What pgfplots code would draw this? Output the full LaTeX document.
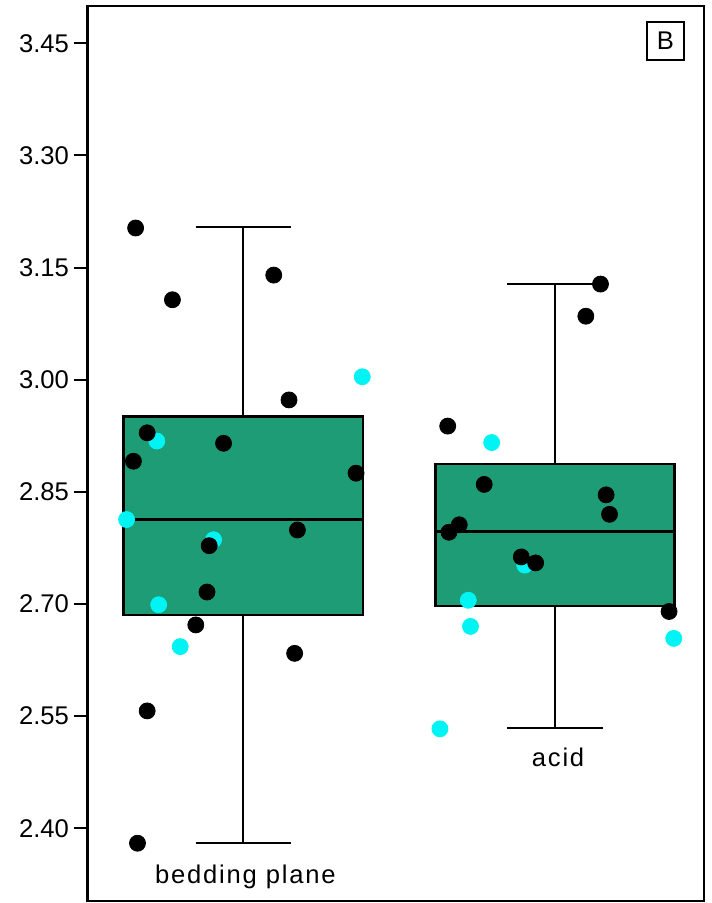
\documentclass[border=0pt]{standalone}
\usepackage{fontspec}
\setmainfont{Liberation Sans}
\usepackage{pgfplots}
\pgfplotsset{compat=1.18}
\usepgfplotslibrary{statistics}
\definecolor{boxgreen}{HTML}{1E9C76}
\definecolor{dotcyan}{HTML}{00F4F4}
\begin{document}
\begin{tikzpicture}
\begin{axis}[
  scale only axis,
  width=308.35pt, height=447.5pt,
  xmin=0.5, xmax=2.478,
  ymin=2.3027, ymax=3.5,
  xtick=\empty,
  ytick={2.40,2.55,2.70,2.85,3.00,3.15,3.30,3.45},
  ytick pos=left,
  tick align=outside,
  major tick length=6.5pt,
  /pgf/number format/assume math mode=true,
  yticklabel={\pgfmathprintnumber[fixed,fixed zerofill,precision=2]{\tick}},
  yticklabel style={font=\fontsize{12.8}{15}\selectfont, inner sep=1pt, xshift=-1.5pt},
  axis line style={line width=1.2pt},
  every tick/.style={line width=1pt, black},
  clip=false,
  boxplot/draw direction=y,
  boxplot/box extend=0.767,
  boxplot/whisker extend=0.305,
  boxplot/every box/.style={draw=black, fill=boxgreen, line width=1.2pt},
  boxplot/every median/.style={draw=black, line width=1.1pt},
  boxplot/every whisker/.style={draw=black, line width=1pt},
]
\addplot[boxplot prepared={draw position=1, median=2.813, upper quartile=2.951, lower quartile=2.685, upper whisker=3.204, lower whisker=2.380}] coordinates {};
\addplot[boxplot prepared={draw position=2, median=2.797, upper quartile=2.887, lower quartile=2.697, upper whisker=3.128, lower whisker=2.534}] coordinates {};
% cyan points
\addplot[only marks, mark=*, mark size=4pt, color=dotcyan] coordinates {
 (1.382,3.004) (0.723,2.918) (0.626,2.813) (0.905,2.786) (0.729,2.699) (0.798,2.643)
 (1.797,2.916) (1.903,2.752) (1.722,2.705) (1.729,2.670) (2.381,2.654) (1.631,2.533)
};
% black points
\addplot[only marks, mark=*, mark size=4pt, color=black] coordinates {
 (0.655,3.203) (0.773,3.107) (1.098,3.140) (1.147,2.973) (0.692,2.929) (0.937,2.915)
 (0.648,2.891) (1.362,2.875) (1.174,2.799) (0.891,2.778) (0.884,2.716) (0.848,2.672)
 (1.165,2.634) (0.692,2.557) (0.661,2.380)
 (2.146,3.128) (2.099,3.085) (1.656,2.938) (1.773,2.860) (2.164,2.846) (2.175,2.820)
 (1.693,2.806) (1.660,2.796) (1.892,2.763) (1.938,2.755) (2.366,2.690)
};
\node[anchor=base, font=\fontsize{12.8}{15}\selectfont\addfontfeature{LetterSpace=7}] at (axis cs:1.007,2.326) {bedding plane};
\node[anchor=base, font=\fontsize{12.8}{15}\selectfont\addfontfeature{LetterSpace=7}] at (axis cs:2.01,2.483) {acid};
\node[draw=black, line width=1pt, minimum width=18.8pt, minimum height=18.8pt, inner sep=0pt, font=\fontsize{12.8}{15}\selectfont] at (rel axis cs:0.9376,0.9607) {B};
\path (rel axis cs:0,0) ++(-43.65pt,-1pt) coordinate (bl);
\path (rel axis cs:1,1) ++(3.5pt,3pt) coordinate (tr);
\end{axis}
\path (bl) rectangle (tr);
\end{tikzpicture}
\end{document}
